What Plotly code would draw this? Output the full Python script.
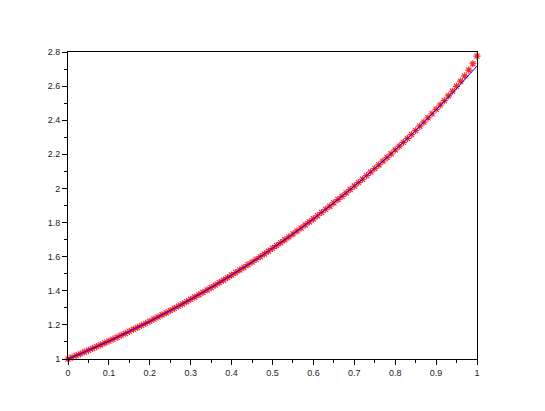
import plotly.graph_objects as go

# blue curve (exact solution), read at every 0.05
x_line = [0.00, 0.05, 0.10, 0.15, 0.20, 0.25, 0.30, 0.35, 0.40, 0.45, 0.50,
          0.55, 0.60, 0.65, 0.70, 0.75, 0.80, 0.85, 0.90, 0.95, 1.00]
y_line = [1.000, 1.051, 1.105, 1.162, 1.221, 1.284, 1.350, 1.419, 1.492, 1.568, 1.649,
          1.733, 1.822, 1.916, 2.014, 2.117, 2.226, 2.340, 2.460, 2.586, 2.718]

# red stars (approximation), one every 0.01
x_pts = [i / 100 for i in range(101)]
y_pts = [1.000, 1.010, 1.020, 1.030, 1.041, 1.051, 1.062, 1.073, 1.083, 1.094,
         1.105, 1.116, 1.127, 1.139, 1.150, 1.162, 1.174, 1.185, 1.197, 1.209,
         1.221, 1.234, 1.246, 1.259, 1.271, 1.284, 1.297, 1.310, 1.323, 1.336,
         1.350, 1.363, 1.377, 1.391, 1.405, 1.419, 1.433, 1.448, 1.462, 1.477,
         1.492, 1.507, 1.522, 1.537, 1.553, 1.568, 1.584, 1.600, 1.616, 1.632,
         1.649, 1.665, 1.682, 1.699, 1.716, 1.733, 1.751, 1.768, 1.786, 1.804,
         1.822, 1.840, 1.859, 1.878, 1.896, 1.916, 1.935, 1.954, 1.974, 1.994,
         2.014, 2.034, 2.054, 2.075, 2.096, 2.117, 2.138, 2.160, 2.181, 2.203,
         2.226, 2.248, 2.270, 2.293, 2.316, 2.340, 2.365, 2.389, 2.414, 2.438,
         2.464, 2.489, 2.515, 2.543, 2.570, 2.599, 2.629, 2.660, 2.694, 2.731,
         2.776]

fig = go.Figure()
fig.add_trace(go.Scatter(x=x_pts, y=y_pts, mode="markers", cliponaxis=False, showlegend=False,
                         marker=dict(symbol="asterisk-open", size=6, opacity=0.85, color="#ff0000",
                                     line=dict(color="#ff0000", width=1.2))))
fig.add_trace(go.Scatter(x=x_line, y=y_line, mode="lines", line=dict(color="#0000ff", width=1),
                         line_shape="spline", showlegend=False))

axis_style = dict(showgrid=False, zeroline=False, showline=True, linecolor="black",
                  linewidth=1, mirror=True, ticks="outside", ticklen=5, tickcolor="black",
                  tickfont=dict(family="Liberation Sans", size=9, color="#222"))

fig.update_xaxes(range=[0, 1], dtick=0.1, tick0=0,
                 minor=dict(dtick=0.05, ticks="outside", ticklen=3, tickcolor="black"),
                 **axis_style)
fig.update_yaxes(range=[1, 2.8], dtick=0.2, tick0=1,
                 minor=dict(dtick=0.1, ticks="outside", ticklen=3, tickcolor="black"),
                 **axis_style)

# page body has an 8px margin, so shrink the figure to keep the frame in place
fig.update_layout(width=537, height=403, margin=dict(l=60, r=68, t=44, b=52),
                  plot_bgcolor="white", paper_bgcolor="white")

fig.write_html("out.html")
